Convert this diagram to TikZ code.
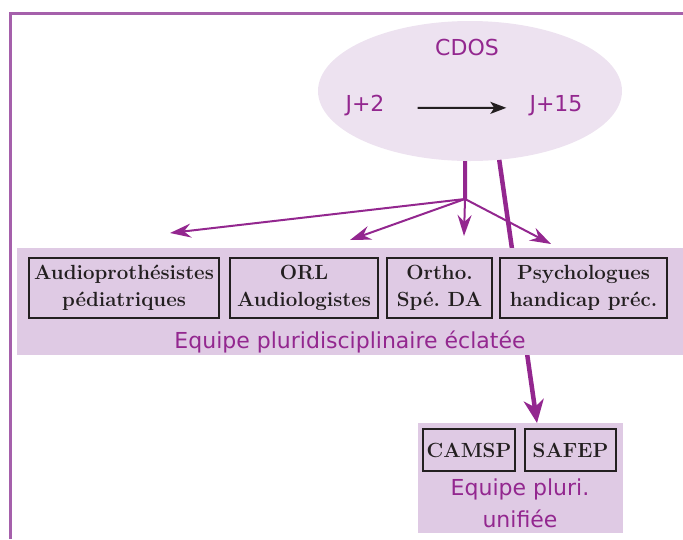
\documentclass[tikz,border=0pt]{standalone}
\usepackage{fontspec}
\newfontfamily\cdosfont{DejaVu Sans}
\usepackage{tikz}
\usetikzlibrary{positioning}
\usetikzlibrary{arrows.meta}
\usetikzlibrary{shapes.geometric}

\definecolor{violette}{HTML}{93278F}
\definecolor{cadre}{HTML}{A560AB}
\definecolor{bandfill}{HTML}{DFCAE4}
\definecolor{ellfill}{HTML}{EDE2F0}
\definecolor{boxline}{HTML}{231F20}

\begin{document}
\begin{tikzpicture}[x=1pt,y=-1pt,
	metier/.style={draw=boxline, line width=2.4pt, fill=bandfill, align=center, inner sep=0pt,
		minimum height=60pt, text=boxline, font=\fontsize{20.5}{27}\selectfont\bfseries},
	violettext/.style={text=violette, inner sep=2pt, font=\cdosfont\fontsize{22}{32}\selectfont},
	fleche/.style={draw=violette, line width=2pt, -{Stealth[length=21pt,width=14pt,inset=7pt]}}
	]
	\useasboundingbox (0,0) rectangle (683,539);
	
	% cadre
	\draw[cadre, line width=3pt] (10,539) -- (10,13.5) -- (683,13.5);
	
	% ellipse du CDOS
	\node[ellipse, fill=ellfill, inner sep=0pt, minimum width=304pt, minimum height=140pt] (cdos) at (470,91) {};
	
	% fleche longue vers l'equipe unifiee (passe sous la bande)
	\coordinate (tip) at (537,423);
	\draw[violette, line width=4.5pt, -{Stealth[length=23pt,width=20pt,inset=7pt]}] (cdos.-67) -- (tip);
	
	% equipe eclatee
	\node[fill=bandfill, inner sep=0pt, minimum width=666pt, minimum height=107pt] (eclatee) at (350,301.5) {};
	\foreach \cx/\w/\txt [count=\i] in {124/190/{Audioprothésistes\\pédiatriques},
		304/148/{ORL\\Audiologistes}, 439.5/105/{Ortho.\\Spé.\ DA}, 583.5/167/{Psychologues\\handicap préc.}} {
		\node[metier, minimum width=\w pt] (m\i) at (\cx,288) {\txt};
	}
	\node[violettext] (labecl) at (350,342) {Equipe pluridisciplinaire éclatée};
	
	% equipe unifiee
	\node[fill=bandfill, inner sep=0pt, minimum width=205pt, minimum height=110pt] (unifiee) at (520.5,478) {};
	\node[metier, minimum width=92pt, minimum height=42pt] (camsp) at (469,450) {CAMSP};
	\node[metier, minimum width=91pt, minimum height=42pt] (safep) at (570.5,450) {SAFEP};
	\node[violettext, align=center] (labuni) at (520,503) {Equipe pluri.\\unifiée};
	
	% eclatement depuis le CDOS
	\coordinate (j) at (465,199);
	\draw[violette, line width=4pt] (cdos.-94) -- (j);
	\coordinate (c1) at (170,233);
	\coordinate (c2) at (350,240);
	\coordinate (c3) at (464,236);
	\coordinate (c4) at (551,244);
	\foreach \i in {1,...,4} {
		\draw[fleche] (j) -- (c\i);
	}
	
	% textes dans l'ellipse
	\node[violettext] (titre) at (467,47) {CDOS};
	\node[violettext] (j2) at (365,106) {J+2};
	\node[violettext] (j15) at (556,106) {J+15};
	\draw[boxline, line width=2pt, -{Stealth[length=16pt,width=12pt,inset=4pt]},
		shorten <=31pt, shorten >=21pt] ([yshift=4pt]j2.base east) -- ([yshift=4pt]j15.base west);
\end{tikzpicture}
\end{document}
